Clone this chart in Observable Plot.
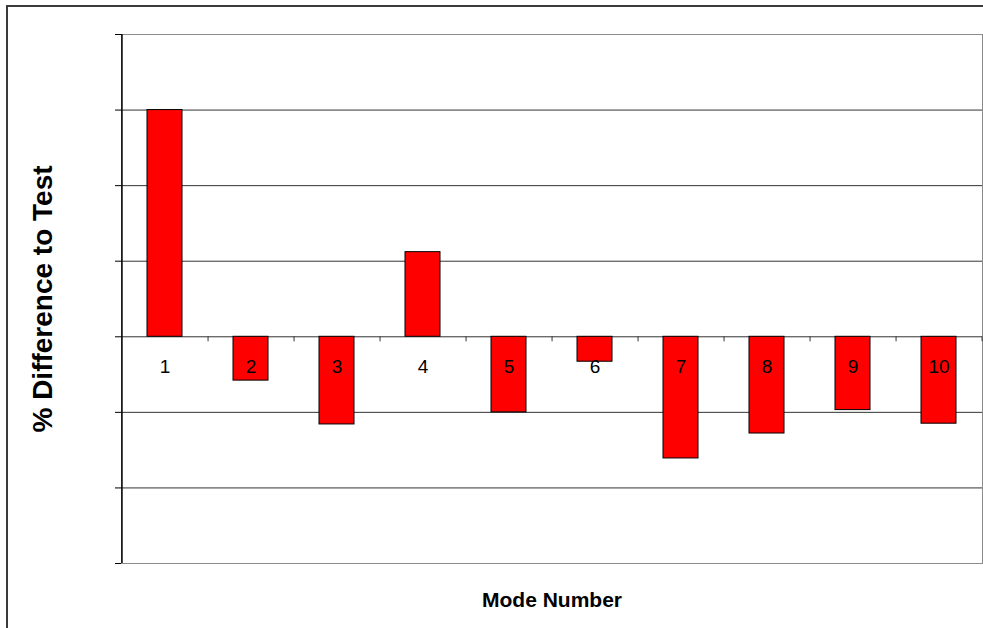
<!DOCTYPE html>
<html>
<head>
<meta charset="utf-8">
<script src="https://cdn.jsdelivr.net/npm/d3@7"></script>
<script src="https://cdn.jsdelivr.net/npm/@observablehq/plot@0.6"></script>
<style>
  html, body { margin: 0; padding: 0; background: #fff; overflow: hidden; }
  #chart { position: relative; width: 983px; height: 628px; }
  #chart svg { display: block; }
  #outline { position: absolute; left: 6px; top: 5px; width: 1100px; height: 800px;
             border: 2px solid #3a3a3a; box-sizing: border-box; pointer-events: none; }
</style>
</head>
<body>
<div id="chart"></div>
<script>
// Mode numbers and their % difference to test
const modes = [1, 2, 3, 4, 5, 6, 7, 8, 9, 10];
const diffs = [3.0, -0.58, -1.16, 1.12, -1.0, -0.33, -1.61, -1.28, -0.97, -1.15];
const yTicks = [-3, -2, -1, 0, 1, 2, 3, 4];
const yTitle = "% Difference to Test";
const xTitle = "Mode Number";

const data = modes.map((m, i) => ({mode: m, diff: diffs[i]}));

const W = 983, H = 628;
const mL = 121, mR = 1, mT = 34, mB = 65;
const step = (W - mL - mR) / modes.length;
const inner = yTicks.slice(1, -1);

const chart = Plot.plot({
  width: W,
  height: H,
  marginLeft: mL,
  marginRight: mR,
  marginTop: mT,
  marginBottom: mB,
  style: {fontFamily: "'Liberation Sans', Arial, sans-serif", background: "#fff", color: "#000"},
  x: {type: "band", domain: modes, paddingInner: 0.59, paddingOuter: 0.295, axis: null},
  y: {domain: [yTicks[0], yTicks[yTicks.length - 1]]},
  marks: [
    // plot area border and horizontal gridlines
    Plot.frame({stroke: "#8c8c8c"}),
    Plot.ruleY(inner, {stroke: "#333", strokeWidth: 1}),
    // y axis: line and outward ticks, no labels
    Plot.axisY({ticks: yTicks, tickFormat: () => "", tickSize: 6, stroke: "#000", label: null}),
    Plot.ruleX([modes[0]], {dx: -step / 2, stroke: "#000", strokeWidth: 1.5}),
    // bars
    Plot.barY(data, {x: "mode", y: "diff", fill: "#ff0000", stroke: "#000", strokeWidth: 1}),
    // category separators hanging below the zero line
    Plot.ruleX(modes, {x: d => d, y1: 0, y2: 0, dx: step / 2, insetBottom: -5, stroke: "#333"}),
    // category labels just under the zero line
    Plot.text(data, {x: "mode", y: 0, text: d => String(d.mode), dy: 30, fontSize: 19, fill: "#000"}),
    // axis titles
    Plot.text([yTitle], {frameAnchor: "left", textAnchor: "middle", dx: -78, rotate: -90, fontSize: 28, fontWeight: "bold", fill: "#000"}),
    Plot.text([xTitle], {frameAnchor: "bottom", dy: 43, fontSize: 21, fontWeight: "bold", fill: "#000"})
  ]
});

const host = document.getElementById("chart");
host.appendChild(chart);
const outline = document.createElement("div");
outline.id = "outline";
host.appendChild(outline);
</script>
</body>
</html>
